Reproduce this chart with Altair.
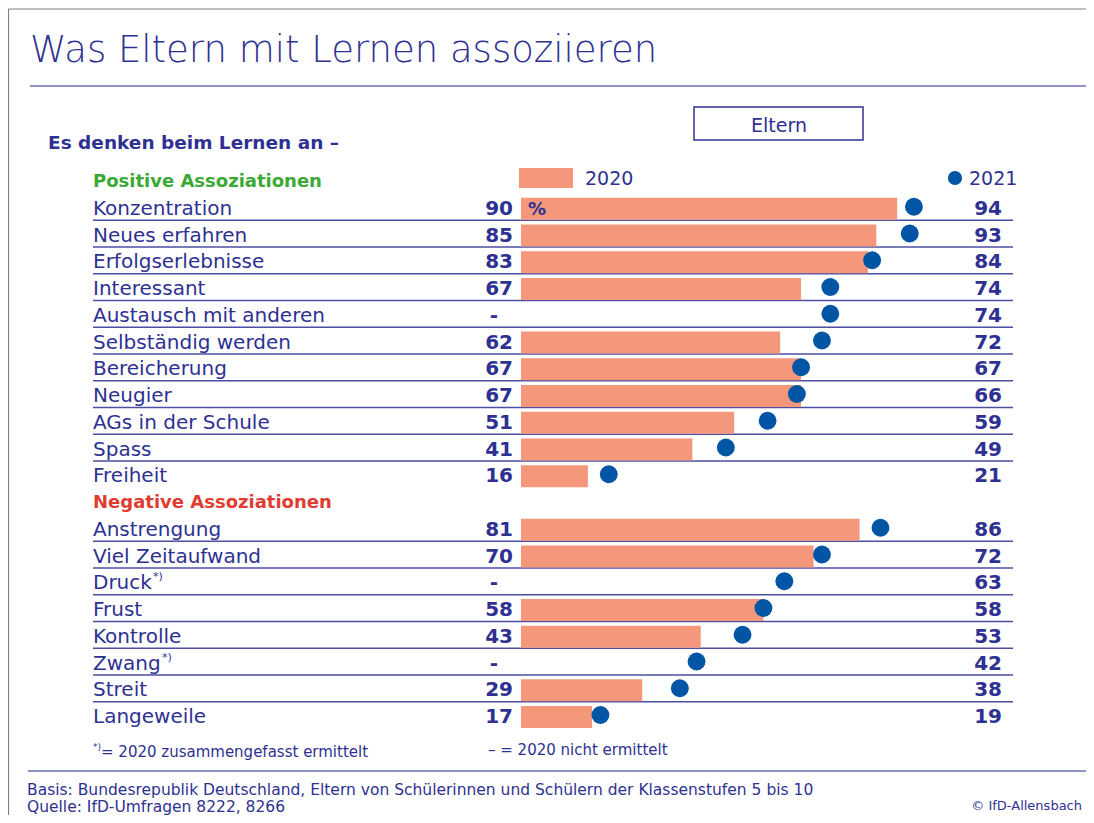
import altair as alt
import pandas as pd

# ---------------- data ----------------
positive_labels = ["Konzentration", "Neues erfahren", "Erfolgserlebnisse", "Interessant",
                   "Austausch mit anderen", "Selbständig werden", "Bereicherung", "Neugier",
                   "AGs in der Schule", "Spass", "Freiheit"]
positive_2020 = [90, 85, 83, 67, None, 62, 67, 67, 51, 41, 16]
positive_2021 = [94, 93, 84, 74, 74, 72, 67, 66, 59, 49, 21]

negative_labels = ["Anstrengung", "Viel Zeitaufwand", "Druck", "Frust", "Kontrolle",
                   "Zwang", "Streit", "Langeweile"]
negative_2020 = [81, 70, None, 58, 43, None, 29, 17]
negative_2021 = [86, 72, 63, 58, 53, 42, 38, 19]

group_titles = ["Positive Assoziationen", "Negative Assoziationen"]

title_text = "Was Eltern mit Lernen assoziieren"
subtitle_text = "Es denken beim Lernen an –"
box_text = "Eltern"
legend_labels = ["2020", "2021"]
note_star = "= 2020 zusammengefasst ermittelt"
note_dash = "– = 2020 nicht ermittelt"
basis_text = "Basis: Bundesrepublik Deutschland, Eltern von Schülerinnen und Schülern der Klassenstufen 5 bis 10"
quelle_text = "Quelle: IfD-Umfragen 8222, 8266"
copyright_text = "© IfD-Allensbach"

# ---------------- styles ----------------
FONT = "DejaVu Sans"
NAVY = "#2e3192"
SALMON = "#f4977a"
DOT = "#0055a5"
GREEN = "#3aa935"
RED = "#e03c31"
RULE = "#4b4ea3"
LIGHT = "#8f93c9"
GRAY = "#808080"

# ---------------- build table ----------------
records = []
headers = []
row = -1
for gi, (labs, a, b) in enumerate([(positive_labels, positive_2020, positive_2021),
                                   (negative_labels, negative_2020, negative_2021)]):
    headers.append({"row": row, "label": group_titles[gi], "grp": gi})
    row += 1
    for i, lab in enumerate(labs):
        records.append({
            "row": row,
            "label": lab,
            "v2020": a[i],
            "v2021": b[i],
            "left": str(a[i]) if a[i] is not None else None,
            "right": str(b[i]),
            "sep": row + 0.5 if i < len(labs) - 1 else None,
        })
        row += 1
df = pd.DataFrame(records)
hdr = pd.DataFrame(headers)

xs = alt.Scale(domain=[0, 100], range=[513, 931], nice=False, zero=False, padding=0)
ys = alt.Scale(domain=[-1, 19], range=[172, 707], nice=False, zero=False, padding=0)

base = alt.Chart(df)

bars = base.transform_filter("datum.v2020 != null").mark_bar(
    orient="horizontal", size=22, color=SALMON, yOffset=2
).encode(
    x=alt.X("v2020:Q", scale=xs, axis=None),
    x2=alt.datum(0),
    y=alt.Y("row:Q", scale=ys, axis=None),
)

dots = base.mark_circle(size=320, color=DOT, opacity=1).encode(
    x=alt.X("v2021:Q", scale=xs, axis=None),
    y=alt.Y("row:Q", scale=ys, axis=None),
)

seps = base.transform_filter("datum.sep != null").mark_rule(
    color=RULE, strokeWidth=1.5
).encode(
    y=alt.Y("sep:Q", scale=ys, axis=None),
    x=alt.value(85), x2=alt.value(1005),
)

labels_layer = base.mark_text(align="left", baseline="alphabetic", dy=8,
                              fontSize=20, font=FONT, color=NAVY).encode(
    x=alt.value(85), y=alt.Y("row:Q", scale=ys, axis=None), text="label:N")

left_vals = base.transform_filter("datum.left != null").mark_text(
    align="right", baseline="alphabetic", dy=8,
    fontSize=20, font=FONT, fontWeight="bold", color=NAVY).encode(
    x=alt.value(505), y=alt.Y("row:Q", scale=ys, axis=None), text="left:N")

left_missing = base.transform_filter("datum.left == null").mark_text(
    align="right", baseline="alphabetic", dy=8,
    fontSize=20, font=FONT, fontWeight="bold", color=NAVY).encode(
    x=alt.value(490), y=alt.Y("row:Q", scale=ys, axis=None), text=alt.value("-"))

right_vals = base.mark_text(align="right", baseline="alphabetic", dy=8,
                            fontSize=20, font=FONT, fontWeight="bold", color=NAVY).encode(
    x=alt.value(994), y=alt.Y("row:Q", scale=ys, axis=None), text="right:N")

headers_layer = alt.Chart(hdr).mark_text(align="left", baseline="alphabetic", dy=7,
                                         fontSize=18, font=FONT, fontWeight="bold").encode(
    x=alt.value(85), y=alt.Y("row:Q", scale=ys, axis=None), text="label:N",
    color=alt.Color("grp:N", scale=alt.Scale(domain=[0, 1], range=[GREEN, RED]), legend=None))

pct = alt.Chart(df.iloc[[0]]).mark_text(align="left", baseline="alphabetic", dy=8,
                                        fontSize=18, font=FONT, fontWeight="bold", color=NAVY).encode(
    x=alt.value(520), y=alt.Y("row:Q", scale=ys, axis=None), text=alt.value("%"))


def tx(text, x, y, size, color=NAVY, weight="normal", align="left"):
    return alt.Chart(pd.DataFrame({"t": [text]})).mark_text(
        align=align, baseline="alphabetic", fontSize=size, fontWeight=weight,
        color=color, font=FONT).encode(x=alt.value(x), y=alt.value(y), text="t:N")


def rule(x1, x2, y1, y2, color, w):
    return alt.Chart(pd.DataFrame({"a": [0]})).mark_rule(color=color, strokeWidth=w).encode(
        x=alt.value(x1), x2=alt.value(x2), y=alt.value(y1), y2=alt.value(y2))


# star markers for Druck / Zwang
star_rows = df[df["label"].isin(["Druck", "Zwang"])]
stars_druck = alt.Chart(star_rows[star_rows["label"] == "Druck"]).mark_text(
    align="left", baseline="alphabetic", dy=-1, fontSize=11, font=FONT, color=NAVY).encode(
    x=alt.value(145), y=alt.Y("row:Q", scale=ys, axis=None), text=alt.value("*)"))
stars_zwang = alt.Chart(star_rows[star_rows["label"] == "Zwang"]).mark_text(
    align="left", baseline="alphabetic", dy=-1, fontSize=11, font=FONT, color=NAVY).encode(
    x=alt.value(154), y=alt.Y("row:Q", scale=ys, axis=None), text=alt.value("*)"))

frame = (rule(0.5, 0.5, 1, 807, GRAY, 1.2) + rule(0.5, 1078, 1, 1, GRAY, 1.2))
title_rule = rule(22, 1078, 78, 78, LIGHT, 2)
bottom_rule = rule(20, 1078, 763, 763, LIGHT, 2)

box = alt.Chart(pd.DataFrame({"a": [0]})).mark_rect(
    filled=False, stroke=NAVY, strokeWidth=1.5).encode(
    x=alt.value(686), x2=alt.value(855), y=alt.value(99), y2=alt.value(132))

legend_rect = alt.Chart(pd.DataFrame({"a": [0]})).mark_rect(color=SALMON).encode(
    x=alt.value(511), x2=alt.value(565), y=alt.value(160), y2=alt.value(180))
legend_dot = alt.Chart(pd.DataFrame({"a": [0]})).mark_circle(size=200, color=DOT, opacity=1).encode(
    x=alt.value(947), y=alt.value(170))

texts = (
    tx(title_text, 22, 54, 37, weight=200)
    + tx(subtitle_text, 40, 141, 18.5, weight="bold")
    + tx(box_text, 771, 124, 19, align="center")
    + tx(legend_labels[0], 577, 177, 19)
    + tx(legend_labels[1], 961, 177, 19)
    + tx("*)", 85, 742, 9)
    + tx(note_star, 93, 749, 15)
    + tx(note_dash, 480, 747, 15)
    + tx(basis_text, 19, 787, 15.5)
    + tx(quelle_text, 19, 804, 15.5)
    + tx(copyright_text, 1074, 802, 13, align="right")
)

chart = alt.layer(
    frame, title_rule, bottom_rule, box, legend_rect, legend_dot,
    seps, bars, dots, labels_layer, left_vals, left_missing, right_vals, headers_layer, pct,
    stars_druck, stars_zwang, texts
).properties(
    width=1078, height=807, autosize=alt.AutoSizeParams(type="none"), padding=0,
    background="white"
).configure_view(stroke=None)

chart.save("out.html", embed_options={"renderer": "svg", "actions": False})
